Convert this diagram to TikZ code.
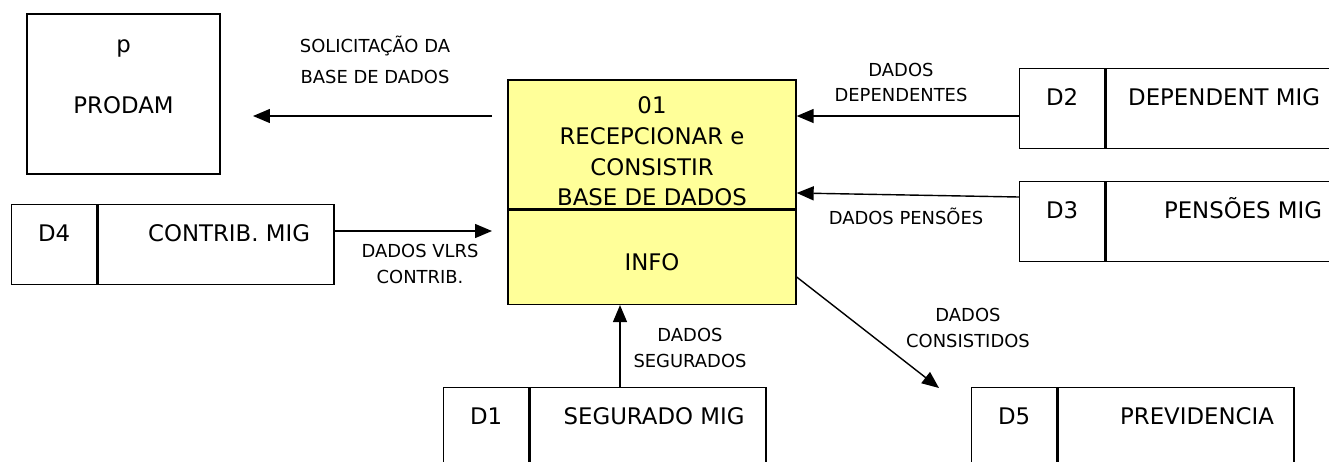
\documentclass[tikz,border=0pt]{standalone}
\usepackage{fontspec}
\setmainfont{DejaVu Sans}
\usetikzlibrary{arrows.meta,positioning}
\definecolor{procyellow}{RGB}{255,255,153}

\begin{document}
\begin{tikzpicture}[
    x=0.02cm, y=-0.02cm,
    line width=0.8pt,
    every node/.style={inner sep=0pt},
    boxtext/.style={font=\fontsize{13}{17.4}\selectfont, align=center},
    flowlabel/.style={font=\fontsize{10.2}{14.5}\selectfont, align=center},
    procbox/.style={draw, fill=procyellow, minimum width=5.76cm},
    idcell/.style={draw, boxtext, minimum width=1.7cm, text height=0.74cm, text depth=0.86cm},
    namecell/.style={draw, boxtext, minimum width=4.72cm, text height=0.74cm, text depth=0.86cm},
    flow/.style={-{Triangle[length=0.34cm,width=0.28cm]}}
  ]
    \clip (0,0) rectangle (1329,461);

    % external entity
    \node[draw, minimum width=3.86cm, minimum height=3.2cm] (prodam) at (123.5,94) {};
    \node[boxtext, anchor=base] (prodamp) at (123.5,52) {p};
    \node[boxtext, anchor=base] (prodamname) at (123.5,113) {PRODAM};

    % process
    \node[procbox, minimum height=2.58cm] (proctop) at (652,144.5) {};
    \node[procbox, minimum height=1.88cm, below=0pt of proctop] (procbot) {};
    \node[boxtext] (proctitle) at (652,151.5) {01\\RECEPCIONAR e\\CONSISTIR\\BASE DE DADOS};
    \node[boxtext] (procinfo) at (652,262) {INFO};

    % data stores
    \node[idcell, anchor=north west] (d2id) at (1019,68) {D2};
    \node[namecell, right=0pt of d2id] (d2name) {DEPENDENT MIG};
    \node[idcell, anchor=north west] (d3id) at (1019,181) {D3};
    \node[namecell, right=0pt of d3id] (d3name) {\hspace*{0.76cm}PENSÕES MIG};
    \node[idcell, anchor=north west] (d4id) at (11,204) {D4};
    \node[namecell, right=0pt of d4id] (d4name) {\hspace*{0.52cm}CONTRIB. MIG};
    \node[idcell, anchor=north west] (d1id) at (443,387) {D1};
    \node[namecell, right=0pt of d1id] (d1name) {\hspace*{0.24cm}SEGURADO MIG};
    \node[idcell, anchor=north west] (d5id) at (971,387) {D5};
    \node[namecell, right=0pt of d5id] (d5name) {\hspace*{0.84cm}PREVIDENCIA};

    % flow labels
    \node[flowlabel] (sollbl) at (375,59.5) {SOLICITAÇÃO DA\\[3.1pt]BASE DE DADOS};
    \node[flowlabel] (deplbl) at (901,82.5) {DADOS\\DEPENDENTES};
    \node[flowlabel] (penslbl) at (906,216) {DADOS PENSÕES};
    \node[flowlabel] (vlrslbl) at (420,264) {DADOS VLRS\\CONTRIB.};
    \node[flowlabel] (seglbl) at (690,348) {DADOS\\SEGURADOS};
    \node[flowlabel] (conslbl) at (968,328) {DADOS\\CONSISTIDOS};

    \coordinate (solstart) at (492,116);
    \coordinate (prodamin) at (253,116);
    \coordinate (vlrsend) at (492,231);
    \coordinate (consend) at (939,388);

    \draw[flow] (solstart) -- (prodamin);
    \draw[flow] (d2id.west |- 0,116) -- (proctop.east |- 0,116);
    \draw[flow] (d3id.west |- 0,197) -- (proctop.east |- 0,193);
    \draw[flow] (d4name.east |- 0,231) -- (vlrsend);
    \draw[flow] (d1name.north -| 620,0) -- (procbot.south -| 620,0);
    \draw[flow] (procbot.east |- 0,277) -- (consend);
  \end{tikzpicture}
\end{document}
